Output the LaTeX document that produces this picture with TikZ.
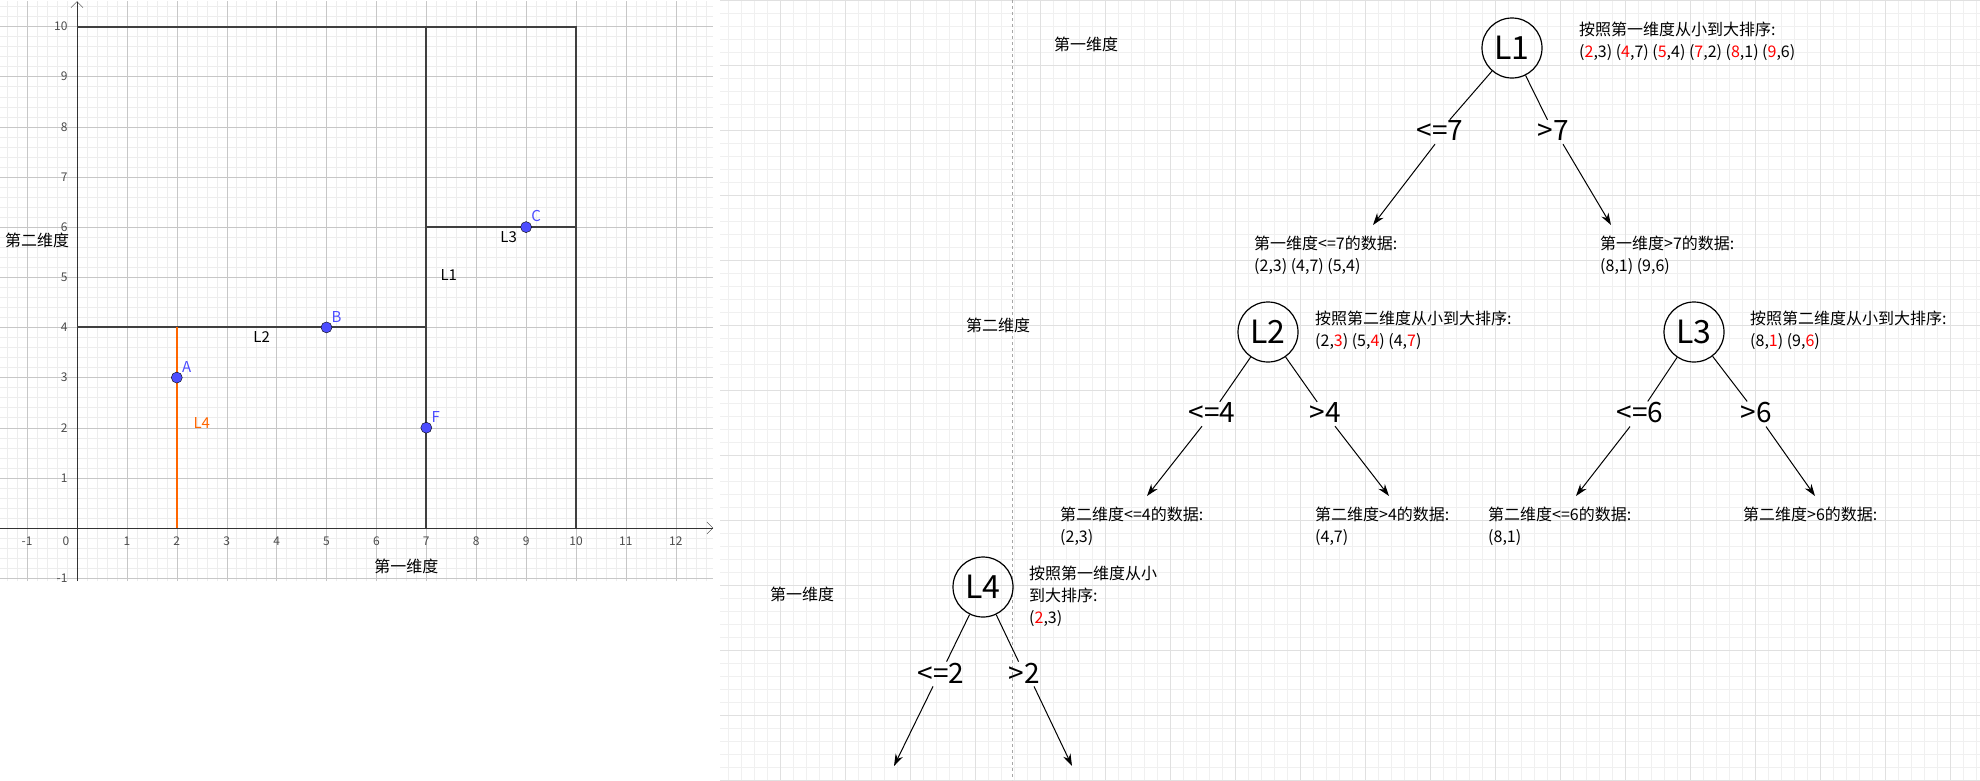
\documentclass[tikz,border=0pt]{standalone}
\usepackage{fontspec}
\setmainfont{Noto Sans CJK SC}
\usetikzlibrary{arrows.meta,positioning}
\definecolor{ptblue}{RGB}{77,77,255}
\definecolor{ltorange}{RGB}{255,102,0}
\tikzset{
  knode/.style={circle,draw,line width=1.2pt,minimum size=60pt,inner sep=0pt,font=\fontsize{32}{32}\selectfont},
  cond/.style={inner sep=1pt,font=\fontsize{28}{28}\selectfont},
  info/.style={anchor=north west,inner sep=0pt,align=left,font=\fontsize{16}{22}\selectfont},
  dimlbl/.style={inner sep=0pt,font=\fontsize{16}{16}\selectfont},
  karrow/.style={-{Stealth[length=12pt,width=8pt]},line width=1pt},
  kline/.style={line width=1pt},
  pt/.style={circle,draw=black,fill=ptblue,inner sep=0pt,minimum size=11pt},
  ptlbl/.style={text=ptblue,font=\fontsize{15}{15}\selectfont,inner sep=1pt},
  seg/.style={line width=2pt,draw=black!75}
}
\newcommand{\rd}[1]{\textcolor{red}{#1}}
\begin{document}
\begin{tikzpicture}[x=1pt,y=-1pt]
\useasboundingbox (0,0) rectangle (1980,780);
\fill[white] (0,0) rectangle (1980,780);

% right panel grid
\draw[black!6,step=13pt] (720,0) grid (1980,780);
\draw[black!12,step=65pt] (720,0) grid (1980,780);
\draw[black!35,dashed] (1012,0) -- (1012,780);

% graph panel
\begin{scope}[shift={(77,528)},x=49.9pt,y=50.15pt]
\draw[black!7,step=0.2] (-1.54,-1.06) grid (12.75,10.5);
\draw[black!22,step=1] (-1.54,-1.06) grid (12.75,10.5);
\draw[-{Straight Barb[length=6pt]},black!80] (-1.54,0) -- (12.75,0);
\draw[-{Straight Barb[length=6pt]},black!80] (0,-1.06) -- (0,10.5);
\foreach \i in {-1,1,2,...,12}
  \node[font=\fontsize{12}{12}\selectfont,black!70] (xt\i) at (\i,-0.27) {\i};
\node[font=\fontsize{12}{12}\selectfont,black!70] (xt0) at (-0.22,-0.27) {0};
\foreach \j in {-1,1,2,...,10}
  \node[font=\fontsize{12}{12}\selectfont,black!70,anchor=east] (yt\j) at (-0.12,\j) {\j};
% splitting lines
\draw[seg] (0,10) -- (10,10) -- (10,0);
\draw[seg] (7,0) -- (7,10);
\draw[seg] (0,4) -- (7,4);
\draw[seg] (7,6) -- (10,6);
\draw[line width=2pt,ltorange] (2,0) -- (2,4);
\node[font=\fontsize{15}{15}\selectfont] (lab1) at (7.45,5.05) {L1};
\node[font=\fontsize{15}{15}\selectfont] (lab2) at (3.7,3.8) {L2};
\node[font=\fontsize{15}{15}\selectfont] (lab3) at (8.65,5.8) {L3};
\node[font=\fontsize{15}{15}\selectfont,text=ltorange] (lab4) at (2.5,2.1) {L4};
\node[pt] (A) at (2,3) {};
\node[pt] (B) at (5,4) {};
\node[pt] (C) at (9,6) {};
\node[pt] (F) at (7,2) {};
\node[ptlbl,anchor=south west] at (A.north east) {A};
\node[ptlbl,anchor=south west] at (B.north east) {B};
\node[ptlbl,anchor=south west] at (C.north east) {C};
\node[ptlbl,anchor=south west] at (F.north east) {F};
\node[dimlbl] (xname) at (6.6,-0.77) {第一维度};
\node[dimlbl] (yname) at (-0.8,5.73) {第二维度};
\end{scope}

% tree: level 1
\node[dimlbl] (dim1) at (1086,44) {第一维度};
\node[knode] (L1) at (1512,48) {L1};
\node[info] (L1txt) at (1579,22) {按照第一维度从小到大排序:\\(\rd{2},3) (\rd{4},7) (\rd{5},4) (\rd{7},2) (\rd{8},1) (\rd{9},6)};
\node[cond] (le7) at (1440,131) {<=7};
\node[cond] (gt7) at (1553,131) {>7};
\node[info] (d1l) at (1254,236) {第一维度<=7的数据:\\(2,3) (4,7) (5,4)};
\node[info] (d1r) at (1600,236) {第一维度>7的数据:\\(8,1) (9,6)};
\draw[kline] (L1) -- (le7);
\draw[kline] (L1) -- (gt7);
\draw[karrow] (le7.south) ++(-5,2) coordinate (a1) (a1) -- (1373,225);
\draw[karrow] (gt7.south) ++(10,2) coordinate (a2) (a2) -- (1611,225);

% level 2
\node[dimlbl] (dim2) at (998,325) {第二维度};
\node[knode] (L2) at (1268,332) {L2};
\node[info] (L2txt) at (1315,311) {按照第二维度从小到大排序:\\(2,\rd{3}) (5,\rd{4}) (4,\rd{7})};
\node[knode] (L3) at (1694,332) {L3};
\node[info] (L3txt) at (1750,311) {按照第二维度从小到大排序:\\(8,\rd{1}) (9,\rd{6})};
\node[cond] (le4) at (1212,413) {<=4};
\node[cond] (gt4) at (1325,413) {>4};
\node[cond] (le6) at (1640,413) {<=6};
\node[cond] (gt6) at (1756,413) {>6};
\draw[kline] (L2) -- (le4);
\draw[kline] (L2) -- (gt4);
\draw[kline] (L3) -- (le6);
\draw[kline] (L3) -- (gt6);
\node[info] (d2a) at (1060,507) {第二维度<=4的数据:\\(2,3)};
\node[info] (d2b) at (1315,507) {第二维度>4的数据:\\(4,7)};
\node[info] (d2c) at (1488,507) {第二维度<=6的数据:\\(8,1)};
\node[info] (d2d) at (1743,507) {第二维度>6的数据:};
\draw[karrow] (le4.south) ++(-10,2) coordinate (a3) (a3) -- (1147,496);
\draw[karrow] (gt4.south) ++(10,2) coordinate (a4) (a4) -- (1389,496);
\draw[karrow] (le6.south) ++(-10,2) coordinate (a5) (a5) -- (1576,496);
\draw[karrow] (gt6.south) ++(10,2) coordinate (a6) (a6) -- (1815,496);

% level 3
\node[dimlbl] (dim3) at (802,594) {第一维度};
\node[knode] (L4) at (983,587) {L4};
\node[info] (L4txt) at (1029,566) {按照第一维度从小\\到大排序:\\(\rd{2},3)};
\node[cond] (le2) at (941,673) {<=2};
\node[cond] (gt2) at (1024,673) {>2};
\draw[kline] (L4) -- (le2);
\draw[kline] (L4) -- (gt2);
\draw[karrow] (le2.south) ++(-8,2) coordinate (a7) (a7) -- (894,766);
\draw[karrow] (gt2.south) ++(10,2) coordinate (a8) (a8) -- (1072,766);
\end{tikzpicture}
\end{document}
